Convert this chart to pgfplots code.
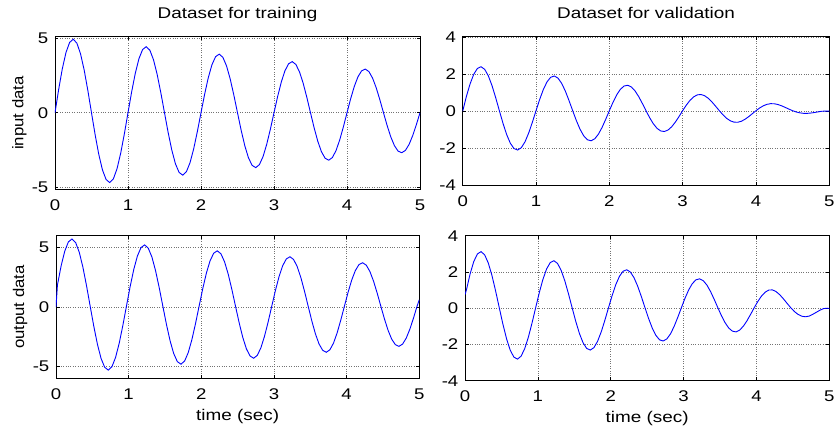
\documentclass[border=0pt]{standalone}
\usepackage{fontspec}
\setmainfont{Liberation Sans}
\usepackage{pgfplots}
\pgfplotsset{compat=1.18}
\pgfplotsset{
  mat/.style={
    scale only axis, anchor=south west,
    xmin=0, xmax=5, xtick={0,1,2,3,4,5},
    tick align=inside, tick pos=both,
    major tick length=3.5pt,
    every tick/.style={black, line width=0.6pt},
    axis line style={black, line width=0.9pt},
    grid=major,
    major grid style={dotted, black!55, line width=0.55pt},
    /pgf/number format/assume math mode=true,
    xticklabel={\scalebox{1.2}[1]{\pgfmathprintnumber{\tick}}},
    yticklabel={\scalebox{1.2}[1]{\pgfmathprintnumber{\tick}}},
    xticklabel style={anchor=north, inner sep=0pt, yshift=-10pt},
    yticklabel style={anchor=east, inner sep=0pt, xshift=-6.5pt},
    title style={at={(axis description cs:0.5,1)}, anchor=base, yshift=12pt, inner sep=0pt},
    xlabel style={at={(axis description cs:0.5,0)}, anchor=base, yshift=-42pt, inner sep=0pt},
    ylabel style={anchor=base, inner sep=0pt},
  },
  cur/.style={blue, line width=0.9pt, mark=none},
}
\begin{document}
\fontsize{15.5}{18}\selectfont
\begin{tikzpicture}[x=1pt,y=1pt]
\path[use as bounding box] (0,0) rectangle (836,430);
% top-left
\begin{axis}[mat, at={(55pt,240.3pt)}, width=365pt, height=153.4pt,
  ymin=-5.15, ymax=5.12, ytick={-5,0,5},
  title={\scalebox{1.22}[1]{Dataset for training}},
  ylabel={\scalebox{1.08}[1]{input data}},
  ylabel style={at={(axis description cs:-0.0863,0.5)}}]
\addplot[cur] coordinates {
(0,0) (0.05,1.553) (0.1,2.94) (0.15,4.025) (0.2,4.707) (0.25,4.925) (0.3,4.66) (0.35,3.944) (0.4,2.852) (0.45,1.491) (0.5,0)
(0.55,-1.475) (0.6,-2.793) (0.65,-3.823) (0.7,-4.47) (0.75,-4.675) (0.8,-4.422) (0.85,-3.742) (0.9,-2.705) (0.95,-1.414) (1,0)
(1.05,1.398) (1.1,2.646) (1.15,3.62) (1.2,4.232) (1.25,4.425) (1.3,4.184) (1.35,3.539) (1.4,2.558) (1.45,1.336) (1.5,0)
(1.55,-1.321) (1.6,-2.499) (1.65,-3.418) (1.7,-3.994) (1.75,-4.175) (1.8,-3.947) (1.85,-3.337) (1.9,-2.411) (1.95,-1.259) (2,0)
(2.05,1.244) (2.1,2.352) (2.15,3.216) (2.2,3.756) (2.25,3.925) (2.3,3.709) (2.35,3.135) (2.4,2.264) (2.45,1.182) (2.5,0)
(2.55,-1.166) (2.6,-2.205) (2.65,-3.014) (2.7,-3.519) (2.75,-3.675) (2.8,-3.471) (2.85,-2.933) (2.9,-2.117) (2.95,-1.105) (3,0)
(3.05,1.089) (3.1,2.058) (3.15,2.811) (3.2,3.281) (3.25,3.425) (3.3,3.233) (3.35,2.73) (3.4,1.97) (3.45,1.027) (3.5,0)
(3.55,-1.012) (3.6,-1.911) (3.65,-2.609) (3.7,-3.043) (3.75,-3.175) (3.8,-2.996) (3.85,-2.528) (3.9,-1.823) (3.95,-0.95) (4,0)
(4.05,0.935) (4.1,1.764) (4.15,2.407) (4.2,2.805) (4.25,2.925) (4.3,2.758) (4.35,2.326) (4.4,1.676) (4.45,0.873) (4.5,0)
(4.55,-0.857) (4.6,-1.617) (4.65,-2.205) (4.7,-2.568) (4.75,-2.675) (4.8,-2.52) (4.85,-2.124) (4.9,-1.529) (4.95,-0.796) (5,0)
};
\end{axis}
% top-right
\begin{axis}[mat, at={(462.7pt,244.7pt)}, width=366.6pt, height=149pt,
  ymin=-4, ymax=4.05, ytick={-4,-2,0,2,4},
  title={\scalebox{1.22}[1]{Dataset for validation}}]
\addplot[cur] coordinates {
(0,0) (0.05,0.795) (0.1,1.471) (0.15,1.992) (0.2,2.312) (0.25,2.405) (0.3,2.265) (0.35,1.911) (0.4,1.382) (0.45,0.733) (0.5,0.03)
(0.55,-0.658) (0.6,-1.264) (0.65,-1.73) (0.7,-2.015) (0.75,-2.095) (0.8,-1.967) (0.85,-1.649) (0.9,-1.175) (0.95,-0.596) (1,0.03)
(1.05,0.64) (1.1,1.177) (1.15,1.587) (1.2,1.837) (1.25,1.905) (1.3,1.789) (1.35,1.506) (1.4,1.088) (1.45,0.578) (1.5,0.03)
(1.55,-0.503) (1.6,-0.97) (1.65,-1.325) (1.7,-1.539) (1.75,-1.595) (1.8,-1.492) (1.85,-1.244) (1.9,-0.881) (1.95,-0.441) (2,0.03)
(2.05,0.486) (2.1,0.883) (2.15,1.183) (2.2,1.361) (2.25,1.405) (2.3,1.314) (2.35,1.102) (2.4,0.794) (2.45,0.424) (2.5,0.03)
(2.55,-0.349) (2.6,-0.676) (2.65,-0.921) (2.7,-1.064) (2.75,-1.095) (2.8,-1.016) (2.85,-0.84) (2.9,-0.587) (2.95,-0.287) (3,0.03)
(3.05,0.331) (3.1,0.589) (3.15,0.778) (3.2,0.886) (3.25,0.905) (3.3,0.838) (3.35,0.697) (3.4,0.5) (3.45,0.269) (3.5,0.03)
(3.55,-0.194) (3.6,-0.382) (3.65,-0.516) (3.7,-0.588) (3.75,-0.595) (3.8,-0.541) (3.85,-0.435) (3.9,-0.293) (3.95,-0.132) (4,0.03)
(4.05,0.177) (4.1,0.295) (4.15,0.374) (4.2,0.41) (4.25,0.405) (4.3,0.363) (4.35,0.293) (4.4,0.206) (4.45,0.115) (4.5,0.03)
(4.55,-0.04) (4.6,-0.088) (4.65,-0.112) (4.7,-0.113) (4.75,-0.095) (4.8,-0.065) (4.85,-0.031) (4.9,0) (4.95,0.01) (5,0.01)
};
\end{axis}
% bottom-left
\begin{axis}[mat, at={(56pt,51.3pt)}, width=363.3pt, height=143.2pt,
  ymin=-6.04, ymax=6.0, ytick={-5,0,5},
  xlabel={\scalebox{1.22}[1]{time (sec)}},
  ylabel={\scalebox{1.08}[1]{output data}},
  ylabel style={at={(axis description cs:-0.0878,0.5)}}]
\addplot[cur] coordinates {
(0,0) (0.02,1.844) (0.07,3.43) (0.12,4.673) (0.17,5.457) (0.22,5.71) (0.27,5.41) (0.32,4.592) (0.37,3.342) (0.42,1.782) (0.47,0.07)
(0.52,-1.626) (0.57,-3.143) (0.62,-4.331) (0.67,-5.08) (0.72,-5.32) (0.77,-5.032) (0.82,-4.25) (0.87,-3.055) (0.92,-1.565) (0.97,0.07)
(1.02,1.689) (1.07,3.136) (1.12,4.269) (1.17,4.982) (1.22,5.21) (1.27,4.934) (1.32,4.188) (1.37,3.048) (1.42,1.627) (1.47,0.07)
(1.52,-1.472) (1.57,-2.849) (1.62,-3.926) (1.67,-4.604) (1.72,-4.82) (1.77,-4.557) (1.82,-3.846) (1.87,-2.761) (1.92,-1.41) (1.97,0.07)
(2.02,1.535) (2.07,2.842) (2.12,3.864) (2.17,4.506) (2.22,4.71) (2.27,4.459) (2.32,3.783) (2.37,2.754) (2.42,1.473) (2.47,0.07)
(2.52,-1.317) (2.57,-2.555) (2.62,-3.522) (2.67,-4.129) (2.72,-4.32) (2.77,-4.081) (2.82,-3.441) (2.87,-2.467) (2.92,-1.256) (2.97,0.07)
(3.02,1.38) (3.07,2.548) (3.12,3.46) (3.17,4.031) (3.22,4.21) (3.27,3.983) (3.32,3.379) (3.37,2.46) (3.42,1.318) (3.47,0.07)
(3.52,-1.163) (3.57,-2.261) (3.62,-3.117) (3.67,-3.653) (3.72,-3.82) (3.77,-3.606) (3.82,-3.037) (3.87,-2.173) (3.92,-1.101) (3.97,0.07)
(4.02,1.226) (4.07,2.254) (4.12,3.055) (4.17,3.555) (4.22,3.71) (4.27,3.508) (4.32,2.974) (4.37,2.166) (4.42,1.164) (4.47,0.07)
(4.52,-1.008) (4.57,-1.967) (4.62,-2.713) (4.67,-3.178) (4.72,-3.32) (4.77,-3.13) (4.82,-2.632) (4.87,-1.879) (4.92,-0.947) (4.97,0.07) (5,0.6)
};
\end{axis}
% bottom-right
\begin{axis}[mat, at={(465pt,49.3pt)}, width=364.3pt, height=145pt,
  ymin=-4, ymax=4, ytick={-4,-2,0,2,4},
  xlabel={\scalebox{1.22}[1]{time (sec)}}]
\addplot[cur] coordinates {
(0,0.75) (0.02,1.016) (0.07,1.891) (0.12,2.57) (0.17,2.992) (0.22,3.12) (0.27,2.945) (0.32,2.489) (0.37,1.803) (0.42,0.954) (0.47,0.03)
(0.52,-0.878) (0.57,-1.684) (0.62,-2.308) (0.67,-2.695) (0.72,-2.81) (0.77,-2.647) (0.82,-2.227) (0.87,-1.596) (0.92,-0.817) (0.97,0.03)
(1.02,0.861) (1.07,1.597) (1.12,2.166) (1.17,2.517) (1.22,2.62) (1.27,2.469) (1.32,2.085) (1.37,1.509) (1.42,0.799) (1.47,0.03)
(1.52,-0.724) (1.57,-1.39) (1.62,-1.904) (1.67,-2.219) (1.72,-2.31) (1.77,-2.172) (1.82,-1.823) (1.87,-1.302) (1.92,-0.662) (1.97,0.03)
(2.02,0.707) (2.07,1.303) (2.12,1.761) (2.17,2.041) (2.22,2.12) (2.27,1.994) (2.32,1.68) (2.37,1.215) (2.42,0.645) (2.47,0.03)
(2.52,-0.569) (2.57,-1.096) (2.62,-1.499) (2.67,-1.744) (2.72,-1.81) (2.77,-1.696) (2.82,-1.418) (2.87,-1.008) (2.92,-0.508) (2.97,0.03)
(3.02,0.552) (3.07,1.009) (3.12,1.357) (3.17,1.566) (3.22,1.62) (3.27,1.518) (3.32,1.276) (3.37,0.921) (3.42,0.49) (3.47,0.03)
(3.52,-0.415) (3.57,-0.802) (3.62,-1.095) (3.67,-1.268) (3.72,-1.306) (3.77,-1.207) (3.82,-0.994) (3.87,-0.694) (3.92,-0.34) (3.97,0.03)
(4.02,0.378) (4.07,0.672) (4.12,0.884) (4.17,1.001) (4.22,1.01) (4.27,0.914) (4.32,0.742) (4.37,0.518) (4.42,0.271) (4.47,0.03)
(4.52,-0.18) (4.57,-0.34) (4.62,-0.439) (4.67,-0.474) (4.72,-0.44) (4.77,-0.346) (4.82,-0.229) (4.87,-0.114) (4.92,-0.023) (4.97,0) (5,-0.02)
};
\end{axis}
\end{tikzpicture}
\end{document}
